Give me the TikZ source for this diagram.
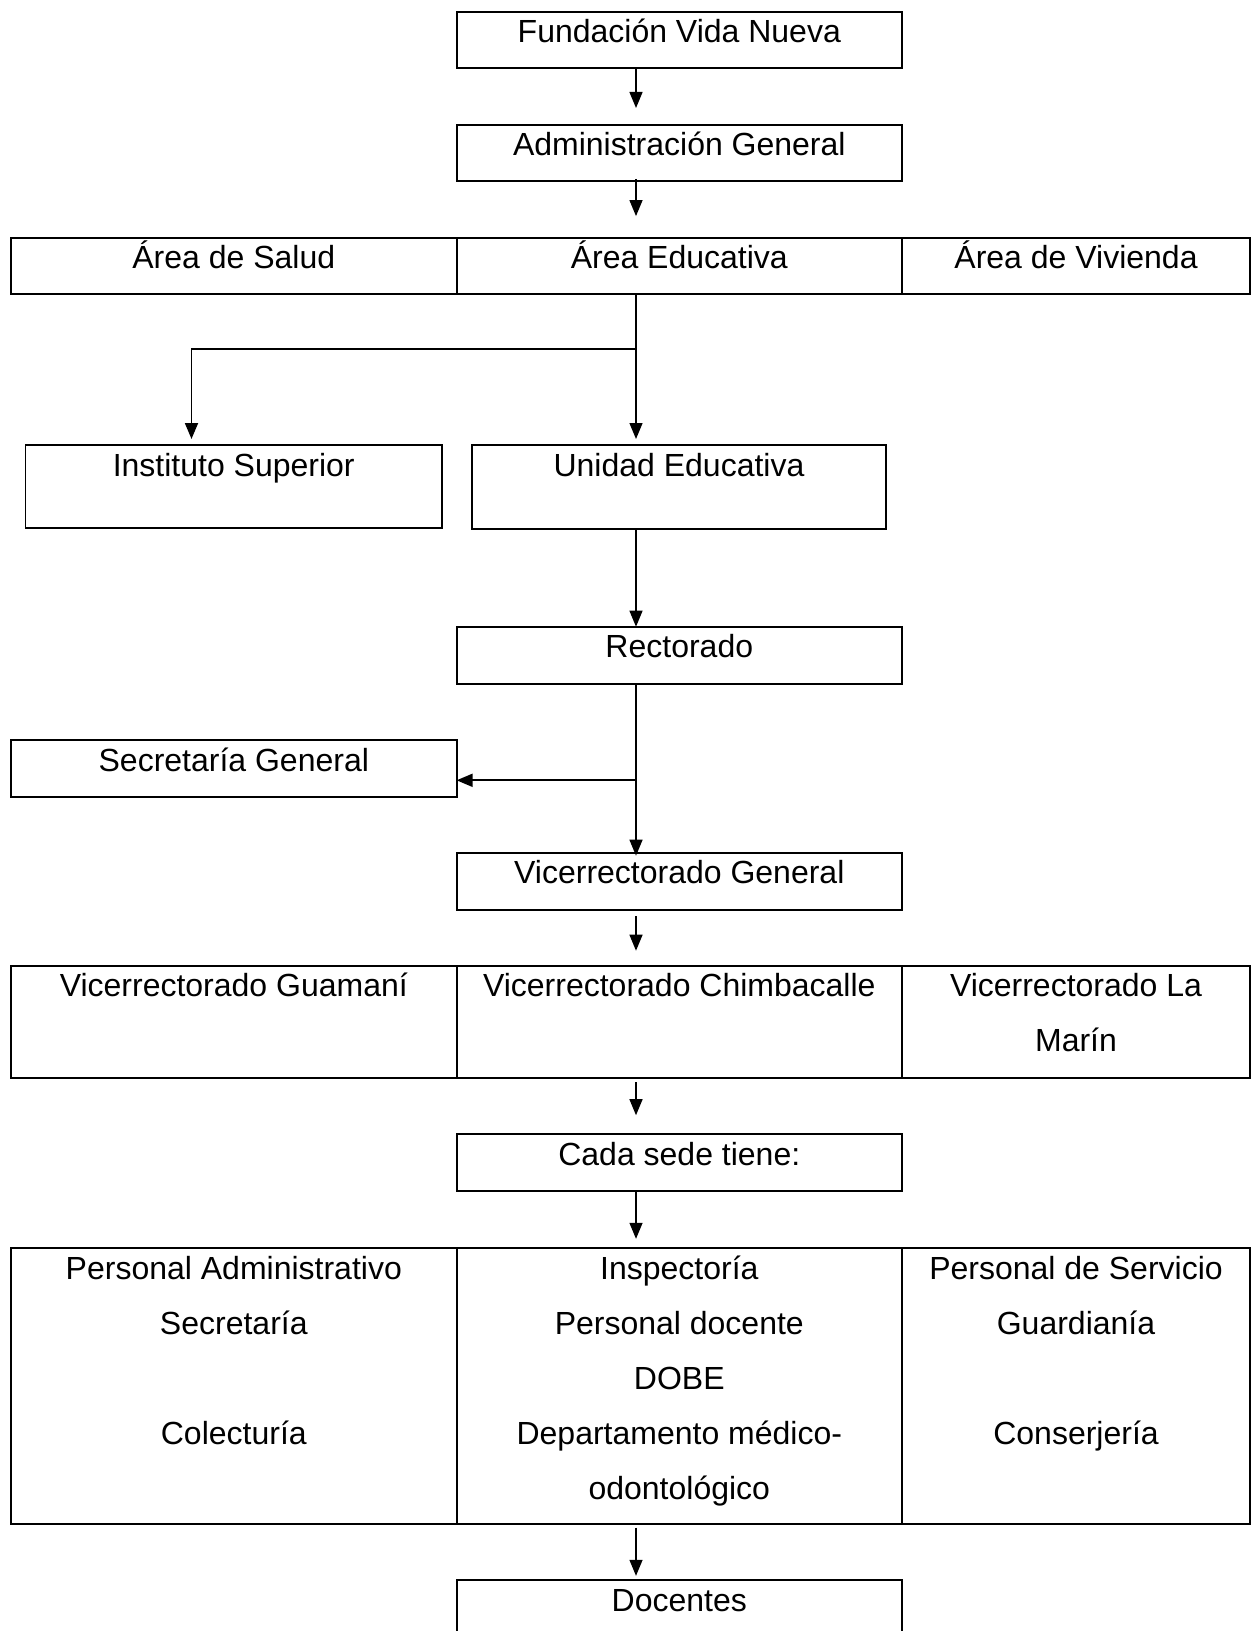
\documentclass[tikz,border=0pt]{standalone}
\usepackage{fontspec}
\setmainfont{Liberation Sans}
\usetikzlibrary{arrows.meta}
\newcommand\celltxt[3]{\parbox[t][#2][t]{#1}{\centering\fontsize{16pt}{27.6pt}\selectfont\rule{0pt}{15.5pt}#3\par}}
\tikzset{
  cell/.style={draw, line width=0.9pt, inner sep=0pt, outer sep=0pt, anchor=north west},
  arr/.style={line width=0.65pt, -{Triangle[length=8pt,width=6.5pt]}},
  branch/.style={line width=0.9pt}
}
\begin{document}
\begin{tikzpicture}[x=0.5pt,y=-0.5pt]
\useasboundingbox (0,0) rectangle (1251,1631);
\coordinate (sp) at (636,0);
% boxes
\node[cell] (fund) at (456.6,11.7) {\celltxt{222.7pt}{28.3pt}{Fundación Vida Nueva}};
\node[cell] (admin) at (456.6,125) {\celltxt{222.7pt}{28pt}{Administración General}};
\node[cell] (salud) at (11,237.7) {\celltxt{222.8pt}{28.15pt}{Área de Salud}};
\node[cell] (educ) at (456.6,237.7) {\celltxt{222.7pt}{28.15pt}{Área Educativa}};
\node[cell] (viv) at (902,237.7) {\celltxt{174pt}{28.15pt}{Área de Vivienda}};
\node[cell] (inst) at (25.5,445) {\celltxt{208.25pt}{41.5pt}{Instituto Superior}};
\node[cell] (unid) at (472,445) {\celltxt{207pt}{42pt}{Unidad Educativa}};
\node[cell] (rect) at (456.6,626.7) {\celltxt{222.7pt}{28.65pt}{Rectorado}};
\node[cell] (secr) at (11,740) {\celltxt{222.8pt}{28.5pt}{Secretaría General}};
\node[cell] (vgen) at (456.6,852.7) {\celltxt{222.7pt}{28.65pt}{Vicerrectorado General}};
\node[cell] (guam) at (11,965.7) {\celltxt{222.8pt}{56pt}{Vicerrectorado Guamaní}};
\node[cell] (chim) at (456.6,965.7) {\celltxt{222.7pt}{56pt}{Vicerrectorado Chimbacalle}};
\node[cell] (marin) at (902,965.7) {\celltxt{174pt}{56pt}{Vicerrectorado La\\Marín}};
\node[cell] (cada) at (456.6,1134) {\celltxt{222.7pt}{28.5pt}{Cada sede tiene:}};
\node[cell] (padm) at (11,1248) {\celltxt{222.8pt}{138.15pt}{Personal Administrativo\\Secretaría\\\mbox{}\\Colecturía}};
\node[cell] (insp) at (456.6,1248) {\celltxt{222.7pt}{138.15pt}{Inspectoría\\Personal docente\\DOBE\\Departamento médico-\\odontológico}};
\node[cell] (pserv) at (902,1248) {\celltxt{174pt}{138.15pt}{Personal de Servicio\\Guardianía\\\mbox{}\\Conserjería}};
\node[cell] (doc) at (456.6,1580.2) {\celltxt{222.7pt}{32pt}{Docentes}};
% connectors
\draw[arr, shorten >=8.5pt] (fund.south -| sp) -- (admin.north -| sp);
\draw[arr, shorten <=-1pt, shorten >=10.8pt] (admin.south -| sp) -- (educ.north -| sp);
\coordinate (j1) at (636,349);
\draw[arr, shorten >=3pt] (educ.south -| sp) -- (unid.north -| sp);
\draw[arr, branch, shorten >=3pt] (j1) -| ([xshift=83pt]inst.north west);
\draw[arr] (unid.south -| sp) -- (rect.north -| sp);
\coordinate (j2) at (636,780.3);
\draw[arr, shorten >=-1.5pt] (rect.south -| sp) -- (vgen.north -| sp);
\draw[arr, branch] (j2) -- (j2 -| secr.east);
\draw[arr, shorten <=3pt, shorten >=7.5pt] (vgen.south -| sp) -- (chim.north -| sp);
\draw[arr, shorten <=2.2pt, shorten >=9.4pt] (chim.south -| sp) -- (cada.north -| sp);
\draw[arr, shorten >=4.6pt] (cada.south -| sp) -- (insp.north -| sp);
\draw[arr, shorten <=1.7pt, shorten >=2.2pt] (insp.south -| sp) -- (doc.north -| sp);
\end{tikzpicture}
\end{document}
